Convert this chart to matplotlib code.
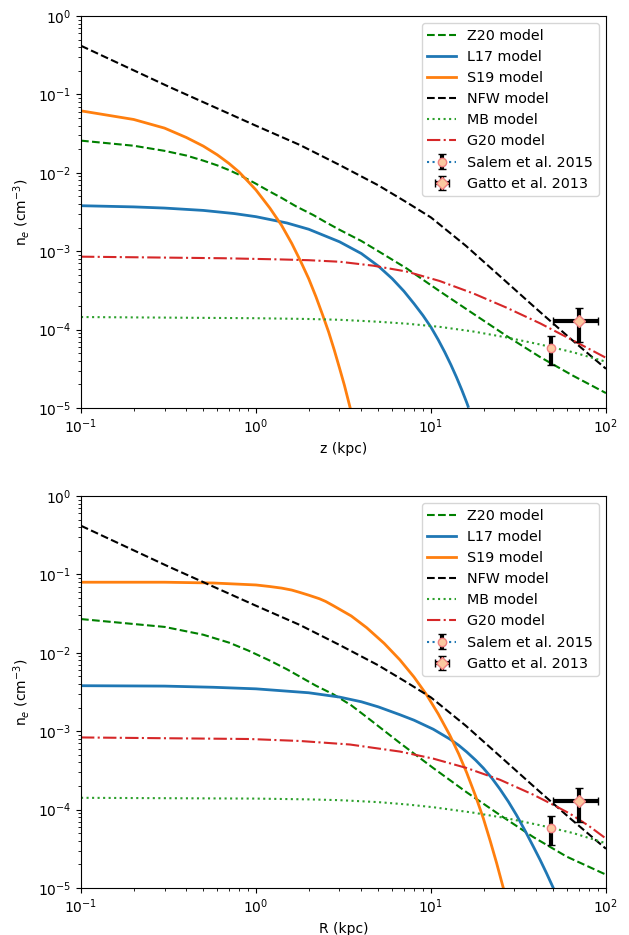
import matplotlib
matplotlib.use("Agg")
from matplotlib import pyplot as plt
import numpy as np

# densities are given as log10(n_e / cm^-3)

# ---- NFW halo, same curve in both panels ----
x_nfw = [0.1, 0.316, 1.0, 1.78, 3.0, 5.0, 7.3, 10, 15.8, 25.1, 39.8, 63, 100]
log_nfw = [-0.38, -0.90, -1.40, -1.645, -1.90, -2.16, -2.38, -2.57, -2.93,
           -3.33, -3.73, -4.12, -4.50]

# ---- vertical profiles, n_e(z) ----
z_s19 = [0.1, 0.2, 0.3, 0.4, 0.5, 0.6, 0.7, 0.8, 0.9, 1.0, 1.2, 1.4, 1.6, 1.8,
         2.0, 2.2, 2.4, 2.6, 2.8, 3.0, 3.2, 3.4, 3.5]
log_s19_z = [-1.21, -1.32, -1.43, -1.55, -1.66, -1.77, -1.88, -1.99, -2.11,
             -2.22, -2.45, -2.67, -2.90, -3.13, -3.35, -3.58, -3.81, -4.03,
             -4.26, -4.49, -4.71, -4.94, -5.05]

z_z20 = [0.1, 0.2, 0.3, 0.4, 0.5, 0.6, 0.7, 0.8, 0.9, 1.0, 1.2, 1.4, 1.7, 2.13,
         2.5, 3.02, 4.0, 5.0, 7.26, 11.2, 17.5, 27, 42, 65, 100]
log_z20_z = [-1.59, -1.655, -1.72, -1.78, -1.845, -1.905, -1.965, -2.025,
             -2.085, -2.14, -2.24, -2.32, -2.43, -2.54, -2.63, -2.73, -2.87,
             -3.00, -3.22, -3.51, -3.80, -4.08, -4.35, -4.59, -4.81]

z_l17 = [0.1, 0.2, 0.3, 0.5, 0.75, 1.0, 1.5, 2.0, 3.0, 4.0, 5.0, 6.0, 7.0, 8.0,
         9.0, 10, 11, 12, 13, 14, 15, 16, 16.3]
log_l17_z = [-2.42, -2.435, -2.45, -2.48, -2.52, -2.56, -2.64, -2.72, -2.88,
             -3.03, -3.19, -3.35, -3.51, -3.67, -3.82, -3.97, -4.13, -4.29,
             -4.45, -4.61, -4.77, -4.93, -4.98]

z_g20 = [0.1, 0.65, 1.37, 2.0, 3.02, 4.68, 7.26, 11.2, 17.5, 27, 42, 65, 100]
log_g20_z = [-3.07, -3.09, -3.105, -3.115, -3.135, -3.185, -3.26, -3.38, -3.54,
             -3.72, -3.92, -4.14, -4.36]

z_mb = [0.1, 1.0, 2.0, 3.0, 5.0, 7.3, 11.2, 17.5, 27, 42, 65, 100]
log_mb_z = [-3.84, -3.855, -3.865, -3.875, -3.90, -3.925, -3.965, -4.025,
            -4.10, -4.19, -4.29, -4.41]

# ---- radial profiles, n_e(R) ----
r_s19 = [0.1, 0.3, 0.57, 1.0, 1.2, 1.4, 1.6, 1.78, 2.0, 2.3, 2.5, 2.77, 3.5,
         4.29, 5.4, 6.64, 8.0, 9.4, 11, 12.8, 14.4, 16, 18, 19.9, 21.8, 23.7,
         25.9]
log_s19_r = [-1.10, -1.10, -1.11, -1.135, -1.155, -1.175, -1.20, -1.23,
             -1.265, -1.31, -1.345, -1.40, -1.53, -1.68, -1.88, -2.09, -2.31,
             -2.53, -2.78, -3.05, -3.29, -3.53, -3.83, -4.11, -4.40, -4.68,
             -5.0]

r_z20 = [0.1, 0.3, 0.5, 0.7, 0.9, 1.2, 1.5, 1.8, 2.2, 2.77, 3.5, 4.29, 6.64,
         10.3, 16, 24.8, 38.4, 59.6, 100]
log_z20_r = [-1.57, -1.67, -1.77, -1.87, -1.97, -2.10, -2.21, -2.31, -2.42,
             -2.53, -2.67, -2.82, -3.15, -3.47, -3.78, -4.07, -4.35, -4.60,
             -4.83]

r_l17 = [0.1, 0.3, 0.57, 1.0, 2.0, 3.0, 4.0, 5.0, 6.64, 8.0, 10.3, 12.8, 14.4,
         16, 18, 19.9, 22.3, 24.8, 27.7, 30.8, 34.5, 38.4, 42, 45.7, 50]
log_l17_r = [-2.42, -2.425, -2.44, -2.46, -2.51, -2.565, -2.625, -2.69, -2.79,
             -2.86, -2.975, -3.10, -3.18, -3.265, -3.37, -3.47, -3.60, -3.74,
             -3.90, -4.07, -4.27, -4.47, -4.64, -4.81, -5.0]

r_g20 = [0.1, 0.92, 1.78, 3.44, 6.64, 10.3, 16, 24.8, 38.4, 50, 62, 80, 100]
log_g20_r = [-3.08, -3.10, -3.125, -3.17, -3.26, -3.35, -3.47, -3.62, -3.81,
             -3.94, -4.05, -4.21, -4.37]

r_mb = [0.1, 1.0, 2.0, 3.0, 5.0, 7.3, 10.3, 17.5, 27, 42, 65, 100]
log_mb_r = [-3.85, -3.86, -3.87, -3.88, -3.905, -3.935, -3.97, -4.04, -4.11,
            -4.20, -4.30, -4.43]

# ---- observational constraints (linear units) ----
salem_x, salem_y, salem_yerr = [48.3], [5.9e-5], [2.4e-5]
gatto_x, gatto_xerr = [70], [20]
gatto_y, gatto_yerr = [1.3e-4], [0.6e-4]


def ne(logs):
    return 10 ** np.asarray(logs)


plt.rcParams["font.family"] = "DejaVu Sans"
fig, axes = plt.subplots(2, 1, figsize=(6.29, 9.35), dpi=100)
fig.subplots_adjust(left=0.1288, right=0.9634, top=0.9829, bottom=0.0503, hspace=0.2245)

panels = [
    (axes[0], "z (kpc)",
     (z_z20, log_z20_z), (z_l17, log_l17_z), (z_s19, log_s19_z), (z_mb, log_mb_z), (z_g20, log_g20_z)),
    (axes[1], "R (kpc)",
     (r_z20, log_z20_r), (r_l17, log_l17_r), (r_s19, log_s19_r), (r_mb, log_mb_r), (r_g20, log_g20_r)),
]

for ax, xlabel, z20, l17, s19, mb, g20 in panels:
    ax.plot(z20[0], ne(z20[1]), ls="--", color="green", lw=1.5, label="Z20 model")
    ax.plot(l17[0], ne(l17[1]), ls="-", color="tab:blue", lw=2, label="L17 model")
    ax.plot(s19[0], ne(s19[1]), ls="-", color="tab:orange", lw=2, label="S19 model")
    ax.plot(x_nfw, ne(log_nfw), ls="--", color="k", lw=1.5, label="NFW model")
    ax.plot(mb[0], ne(mb[1]), ls=":", color="tab:green", lw=1.5, label="MB model")
    ax.plot(g20[0], ne(g20[1]), ls="-.", color="tab:red", lw=1.5, label="G20 model")

    ax.errorbar(salem_x, salem_y, yerr=salem_yerr, fmt="o:", color="tab:blue",
                ecolor="k", elinewidth=3, capsize=3, capthick=2,
                ms=6, mfc="#fbc9a0", mec="lightcoral", mew=1, label="Salem et al. 2015")
    ax.errorbar(gatto_x, gatto_y, xerr=gatto_xerr, yerr=gatto_yerr, fmt="D",
                ecolor="k", elinewidth=3, capsize=3, capthick=2,
                ms=6, mfc="#fbc9a0", mec="lightcoral", mew=1, label="Gatto et al. 2013")

    ax.set_xscale("log")
    ax.set_yscale("log")
    ax.set_xlim(0.1, 100)
    ax.set_ylim(1e-5, 1)
    ax.set_xlabel(xlabel)
    ax.set_ylabel(r"n$_e$ (cm$^{-3}$)")
    ax.legend(loc="upper right", fontsize=10.25)

plt.savefig("out.png", dpi=100)
